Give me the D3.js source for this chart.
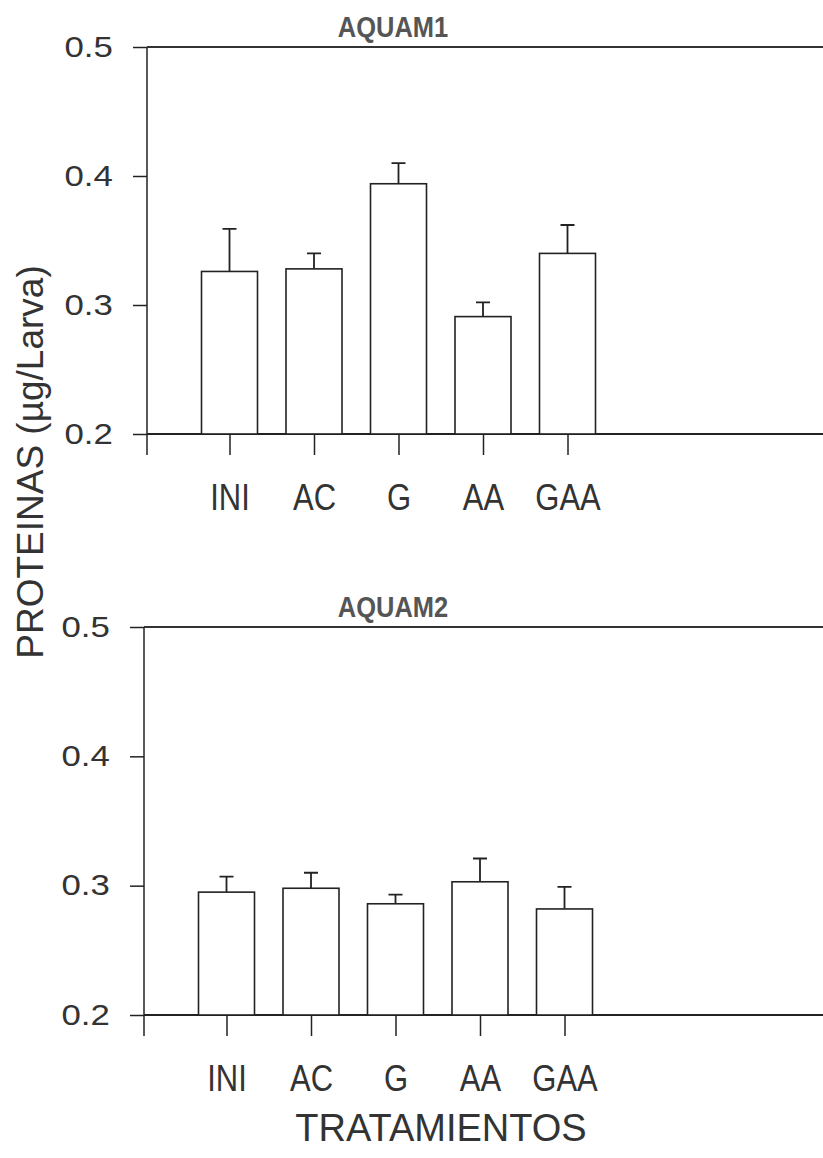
<!DOCTYPE html>
<html lang="es">
<head>
    <meta charset="utf-8">
    <title>Proteinas</title>
    <script src="https://d3js.org/d3.v7.min.js" charset="utf-8"></script>
    <style type="text/css">
        body { margin: 0; background: #fff; }
        svg { display: block; }
        text { font-family: "Liberation Sans", Arial, sans-serif; }
    </style>
</head>
<body>
    <svg width="823" height="1158"></svg>
    <script>

        // data
        var categories = ["INI", "AC", "G", "AA", "GAA"];
        var aquam1Mean = [0.326, 0.328, 0.394, 0.291, 0.340];
        var aquam1Err  = [0.033, 0.012, 0.016, 0.011, 0.022];
        var aquam2Mean = [0.295, 0.298, 0.286, 0.303, 0.282];
        var aquam2Err  = [0.012, 0.012, 0.007, 0.018, 0.017];
        var yTicks = [0.2, 0.3, 0.4, 0.5];

        var svg = d3.select("svg"),
            W = +svg.attr("width");

        var panels = [
            { title: "AQUAM1", mean: aquam1Mean, err: aquam1Err, left: 147, top: 47, h: 387 },
            { title: "AQUAM2", mean: aquam2Mean, err: aquam2Err, left: 144, top: 627, h: 388 }
        ];

        var ink = "#222";

        panels.forEach(function(p) {
            var g = svg.append("g");

            var y = d3.scaleLinear().domain([0.2, 0.5]).range([p.top + p.h, p.top]);
            var x = d3.scaleLinear().domain([0, 8]).range([p.left - 2, p.left - 2 + 8 * 84.5]);
            var base = y(0.2);

            // y axis ticks + labels (scanned font is wide, so stretch it)
            var ya = g.append("g")
                .attr("transform", "translate(" + p.left + ",0)")
                .call(d3.axisLeft(y).tickValues(yTicks).tickSize(14).tickSizeOuter(0)
                    .tickPadding(14.5).tickFormat(d3.format(".1f")));
            ya.select(".domain").remove();
            ya.selectAll("line").attr("stroke", ink).attr("stroke-width", 1.5);
            ya.selectAll("text").attr("font-size", 29).attr("fill", "#333")
                .attr("transform", "scale(1.2,1)");

            // x axis ticks + labels (tall, narrow lettering)
            var xa = g.append("g")
                .attr("transform", "translate(0," + base + ")")
                .call(d3.axisBottom(x).tickValues(d3.range(1, categories.length + 1))
                    .tickSize(21).tickSizeOuter(0).tickPadding(20)
                    .tickFormat(function(d) { return categories[d - 1]; }));
            xa.select(".domain").remove();
            xa.selectAll("line").attr("stroke", ink).attr("stroke-width", 1.5);
            xa.selectAll("text").attr("font-size", 31).attr("fill", "#333")
                .attr("transform", "scale(1,1.2)");

            // frame lines
            g.append("line")
                .attr("x1", p.left).attr("x2", p.left)
                .attr("y1", p.top).attr("y2", base + 21)
                .attr("stroke", ink).attr("stroke-width", 1.5);
            g.append("line")
                .attr("x1", p.left).attr("x2", W)
                .attr("y1", base).attr("y2", base)
                .attr("stroke", ink).attr("stroke-width", 1.8);
            g.append("line")
                .attr("x1", p.left).attr("x2", W)
                .attr("y1", p.top).attr("y2", p.top)
                .attr("stroke", "#333").attr("stroke-width", 1.8);

            var bw = 56, cap = 7;

            // error bars (upper only)
            g.selectAll(".err").data(p.mean).enter().append("path")
                .attr("fill", "none").attr("stroke", ink).attr("stroke-width", 1.8)
                .attr("d", function(d, i) {
                    var cx = x(i + 1), yt = y(d + p.err[i]);
                    return "M" + cx + "," + y(d) + "V" + yt + "M" + (cx - cap) + "," + yt + "H" + (cx + cap);
                });

            // bars
            g.selectAll(".bar").data(p.mean).enter().append("rect")
                .attr("x", function(d, i) { return x(i + 1) - bw / 2; })
                .attr("y", function(d) { return y(d); })
                .attr("width", bw)
                .attr("height", function(d) { return base - y(d); })
                .attr("fill", "#fff").attr("stroke", ink).attr("stroke-width", 1.6);

            g.append("text")
                .attr("transform", "translate(393," + (p.top - 10) + ") scale(1,1.15)")
                .attr("text-anchor", "middle")
                .attr("font-size", 25.5).attr("font-weight", "bold")
                .attr("fill", "#555")
                .text(p.title);
        });

        svg.append("text")
            .attr("transform", "translate(43,462) rotate(-90)")
            .attr("text-anchor", "middle")
            .attr("font-size", 37).attr("fill", "#333")
            .text("PROTEINAS (µg/Larva)");

        svg.append("text")
            .attr("x", 441).attr("y", 1141)
            .attr("text-anchor", "middle")
            .attr("font-size", 38).attr("fill", "#333")
            .text("TRATAMIENTOS");

    </script>
</body>
</html>
